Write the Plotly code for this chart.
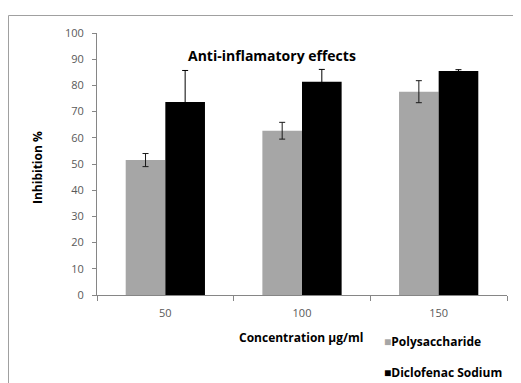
import plotly.graph_objects as go

categories = ["50", "100", "150"]
poly_values = [51.5, 62.7, 77.6]
poly_err = [2.5, 3.2, 4.2]
diclo_values = [73.7, 81.4, 85.5]
diclo_err = [12.0, 4.7, 0.5]
y_ticks = [0, 10, 20, 30, 40, 50, 60, 70, 80, 90, 100]
series_names = ["Polysaccharide", "Diclofenac Sodium"]
series_colors = ["#A6A6A6", "#000000"]

font_family = "Open Sans, Liberation Sans, Arial, sans-serif"
axis_color = "#868686"

fig = go.Figure()
fig.add_trace(go.Bar(
    name=series_names[0], x=categories, y=poly_values,
    marker=dict(color=series_colors[0], line=dict(width=0)),
    error_y=dict(type="data", array=poly_err, color="#1a1a1a", thickness=1, width=3),
))
fig.add_trace(go.Bar(
    name=series_names[1], x=categories, y=diclo_values,
    marker=dict(color=series_colors[1], line=dict(width=0)),
    error_y=dict(type="data", array=diclo_err, color="#000000", thickness=1, width=3),
))

# page body adds an 8px offset; work in window pixels and shift
OFF = 8
W, H = 521 - OFF, 383 - OFF
L, R, T, B = 97 - OFF, 14, 33 - OFF, 88
pw, ph = W - L - R, H - T - B

def px_x(x):
    return (x - OFF - L) / pw

def px_y(y):
    return 1 - (y - OFF - T) / ph

annotations = [
    dict(text="<b>Anti-inflamatory effects</b>", x=px_x(272), y=px_y(56),
         xref="paper", yref="paper", showarrow=False,
         font=dict(size=14, family=font_family, color="#000000"),
         xanchor="center", yanchor="middle"),
    dict(text="<b>Concentration µg/ml</b>", x=px_x(301), y=px_y(337),
         xref="paper", yref="paper", showarrow=False,
         font=dict(size=12, family=font_family, color="#000000"),
         xanchor="center", yanchor="middle"),
    dict(text="<b>Inhibition %</b>", x=px_x(37), y=px_y(168),
         xref="paper", yref="paper", showarrow=False, textangle=-90,
         font=dict(size=12, family=font_family, color="#000000"),
         xanchor="center", yanchor="middle"),
]
legend_y = [341, 372]
for name, color, ly in zip(series_names, series_colors, legend_y):
    annotations.append(dict(
        text=f'<span style="color:{color}">■</span><b>{name}</b>',
        x=px_x(382), y=px_y(ly), xref="paper", yref="paper", showarrow=False,
        font=dict(size=12, family=font_family, color="#000000"),
        xanchor="left", yanchor="middle",
    ))

fig.update_layout(
    width=W, height=H,
    margin=dict(l=L, r=R, t=T, b=B, autoexpand=False),
    paper_bgcolor="white", plot_bgcolor="white",
    barmode="group", bargap=0.42, bargroupgap=0,
    font=dict(family=font_family, color="#000000"),
    showlegend=False,
    annotations=annotations,
    shapes=[
        dict(type="line", xref="paper", yref="paper",
             x0=px_x(8.5), x1=px_x(8.5), y0=px_y(15.5), y1=px_y(400),
             line=dict(color="#A0A0A0", width=1)),
        dict(type="line", xref="paper", yref="paper",
             x0=px_x(8.5), x1=px_x(530), y0=px_y(15.5), y1=px_y(15.5),
             line=dict(color="#A0A0A0", width=1)),
    ],
)
fig.update_xaxes(
    type="category", showline=True, linecolor=axis_color, linewidth=1,
    ticks="outside", tickson="boundaries", ticklen=5, tickcolor=axis_color,
    showgrid=False, tickfont=dict(size=11, color="#595959", family=font_family),
    ticklabelstandoff=8,
)
fig.update_yaxes(
    range=[0, 100], tickvals=y_ticks, showline=True, linecolor=axis_color, linewidth=1,
    ticks="outside", ticklen=4, tickcolor=axis_color, showgrid=False, zeroline=False,
    tickfont=dict(size=11, color="#595959", family=font_family), ticklabelstandoff=6,
)

fig.write_html("out.html")
